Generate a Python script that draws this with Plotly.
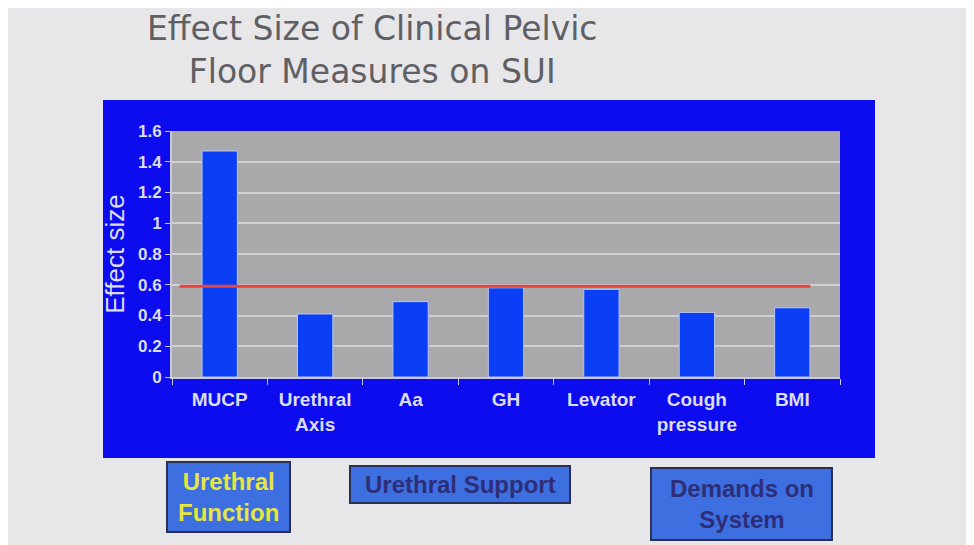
import plotly.graph_objects as go

# 数据
measures = ["MUCP", "Urethral<br>Axis", "Aa", "GH", "Levator", "Cough<br>pressure", "BMI"]
effect_sizes = [1.47, 0.41, 0.49, 0.58, 0.57, 0.42, 0.45]
threshold = 0.59
y_ticks = [0, 0.2, 0.4, 0.6, 0.8, 1, 1.2, 1.4, 1.6]
group_labels = ["Urethral<br>Function", "Urethral Support", "Demands on<br>System"]

# 页面有 8px 的 body 边距，所以整体往左上挪
OFF = 8
W, H = 974 - OFF, 545 - OFF
L, R, T, B = 172 - OFF, 840 - OFF, 131 - OFF, 377 - OFF


def px(x):
    return (x - OFF - L) / (R - L)


def py(y):
    return (B - (y - OFF)) / (B - T)


fig = go.Figure()
fig.add_trace(go.Bar(
    x=measures, y=effect_sizes,
    marker=dict(color="#0b3ff5", line=dict(color="#b8c4f0", width=1)),
))

# 0.6 左右的红色参考线
fig.add_shape(type="line", xref="x", yref="y", x0=-0.42, x1=6.19,
              y0=threshold, y1=threshold, line=dict(color="#e8463c", width=3))

# 蓝色背景面板 + 灰色绘图区
fig.add_shape(type="rect", xref="paper", yref="paper", layer="below",
              x0=px(103), x1=px(875), y0=py(458), y1=py(100),
              fillcolor="#0c0cee", line=dict(width=0))
fig.add_shape(type="rect", xref="paper", yref="paper", layer="below",
              x0=0, x1=1, y0=0, y1=1,
              fillcolor="#a9a9ab", line=dict(width=0))

# 下方分组标签框
boxes = [
    (167, 290, 462, 532, "#e6e640"),
    (350, 570, 466, 503, "#2e2e78"),
    (651, 832, 468, 540, "#2e2e78"),
]
for (x0, x1, y0, y1, col), text in zip(boxes, group_labels):
    fig.add_shape(type="rect", xref="paper", yref="paper",
                  x0=px(x0), x1=px(x1), y0=py(y1), y1=py(y0),
                  fillcolor="#3d6fe0", line=dict(color="#2a2f55", width=2))
    fig.add_annotation(xref="paper", yref="paper", x=px((x0 + x1) / 2), y=py((y0 + y1) / 2),
                       xanchor="center", yanchor="middle",
                       text="<b>" + text + "</b>", showarrow=False,
                       font=dict(family="Liberation Sans", size=24, color=col))

# 标题
fig.add_annotation(xref="paper", yref="paper", x=px(372), y=py(50),
                   xanchor="center", yanchor="middle",
                   text="Effect Size of Clinical Pelvic<br>Floor Measures on SUI",
                   showarrow=False,
                   font=dict(family="DejaVu Sans", size=33, color="#606064"))

fig.update_layout(
    width=W, height=H,
    margin=dict(l=L, r=W - R, t=T, b=H - B),
    paper_bgcolor="#e7e7ea",
    plot_bgcolor="#a9a9ab",
    bargap=0.63,
    showlegend=False,
    font=dict(family="Liberation Sans", color="#dcdcf0"),
)
fig.update_xaxes(
    tickfont=dict(size=19, family="Liberation Sans"),
    tickprefix="<b>", ticksuffix="</b>",
    showline=True, linecolor="#c8c8e0", linewidth=2,
    ticks="outside", tickson="boundaries", ticklen=6, tickcolor="#c8c8e0",
    ticklabelstandoff=4,
    fixedrange=True,
)
fig.update_yaxes(
    range=[0, 1.6], tickvals=y_ticks,
    ticktext=["<b>%g</b>" % v for v in y_ticks],
    tickfont=dict(size=17, family="Liberation Sans"),
    gridcolor="#d0d0d4", gridwidth=1.5,
    showline=True, linecolor="#c8c8e0", linewidth=2,
    ticks="outside", ticklen=5, tickcolor="#c8c8e0",
    title=dict(text="Effect size", font=dict(size=26, family="Liberation Sans", color="#dcdcf0"),
               standoff=6),
    zeroline=False,
)

fig.write_html("out.html")
